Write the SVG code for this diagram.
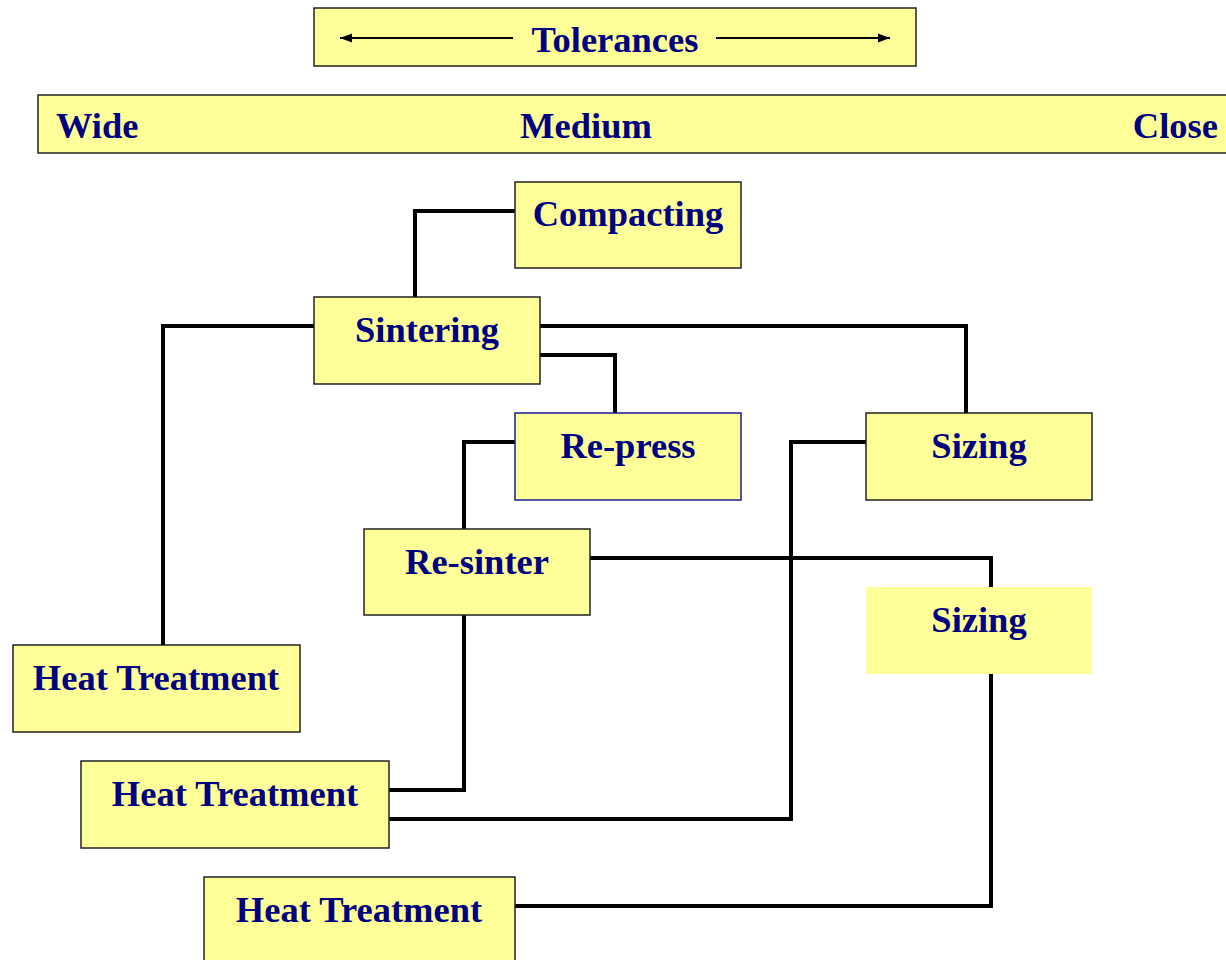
<svg xmlns="http://www.w3.org/2000/svg" width="1226" height="960" viewBox="0 0 1226 960">
<style>
.box{fill:#FFFF99;stroke:#222;stroke-width:1.5}
.t{font-family:"Liberation Serif","Times New Roman",serif;font-weight:bold;font-size:36.5px;fill:#000080}
.c{text-anchor:middle}
.con{fill:none;stroke:#000;stroke-width:4;stroke-linejoin:miter}
</style>
<defs>
<marker id="ah" viewBox="0 0 12 10" refX="12" refY="5" markerWidth="12" markerHeight="10" markerUnits="userSpaceOnUse" orient="auto-start-reverse">
<path d="M0,0.5 L12,5 L0,9.5 z" fill="#000"/>
</marker>
</defs>
<rect width="1226" height="960" fill="#fff"/>
<g id="tolerances">
<rect class="box" x="314" y="8" width="602" height="58"/>
<line x1="340" y1="38" x2="513" y2="38" stroke="#000" stroke-width="1.8" marker-start="url(#ah)"/>
<line x1="716" y1="38" x2="890" y2="38" stroke="#000" stroke-width="1.8" marker-end="url(#ah)"/>
<text class="t c" x="615" y="52">Tolerances</text>
</g>
<g id="scale">
<rect class="box" x="38" y="95" width="1200" height="58"/>
<text class="t" x="56" y="138">Wide</text>
<text class="t c" x="586" y="138">Medium</text>
<text class="t" x="1218" y="138" text-anchor="end">Close</text>
</g>
<g id="connectors">
<polyline class="con" points="415,297 415,211 515,211"/>
<polyline class="con" points="314,326 163,326 163,645"/>
<polyline class="con" points="540,326 966,326 966,413"/>
<polyline class="con" points="540,355 615,355 615,413"/>
<polyline class="con" points="515,442 464,442 464,529"/>
<polyline class="con" points="464,615 464,790 389,790"/>
<polyline class="con" points="866,442 791,442 791,819 389,819"/>
<polyline class="con" points="590,558 991,558 991,587"/>
<polyline class="con" points="991,674 991,906 515,906"/>
</g>
<g id="compacting">
<rect class="box" x="515" y="182" width="226" height="86"/>
<text class="t c" x="628" y="226">Compacting</text>
</g>
<g id="sintering">
<rect class="box" x="314" y="297" width="226" height="87"/>
<text class="t c" x="427" y="342">Sintering</text>
</g>
<g id="repress">
<rect class="box" x="515" y="413" width="226" height="87" style="stroke:#1a1a99"/>
<text class="t c" x="628" y="458">Re-press</text>
</g>
<g id="sizing1">
<rect class="box" x="866" y="413" width="226" height="87"/>
<text class="t c" x="979" y="458">Sizing</text>
</g>
<g id="resinter">
<rect class="box" x="364" y="529" width="226" height="86"/>
<text class="t c" x="477" y="574">Re-sinter</text>
</g>
<g id="sizing2">
<rect x="866" y="587" width="226" height="87" fill="#FFFF99"/>
<text class="t c" x="979" y="632">Sizing</text>
</g>
<g id="heat1">
<rect class="box" x="13" y="645" width="287" height="87"/>
<text class="t c" x="156" y="690">Heat Treatment</text>
</g>
<g id="heat2">
<rect class="box" x="81" y="761" width="308" height="87"/>
<text class="t c" x="235" y="806">Heat Treatment</text>
</g>
<g id="heat3">
<rect class="box" x="204" y="877" width="311" height="90"/>
<text class="t c" x="359" y="922">Heat Treatment</text>
</g>
</svg>
